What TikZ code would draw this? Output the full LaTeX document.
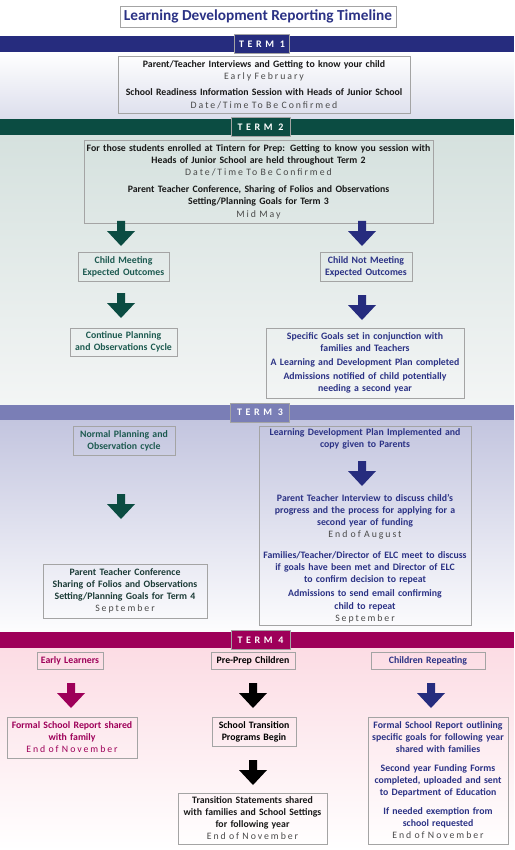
\documentclass[tikz,border=0pt]{standalone}
\usepackage{fontspec}
\setmainfont{Carlito}
\newfontfamily\datefont[LetterSpace=20]{Carlito}
\newfontfamily\termfont[LetterSpace=36]{Carlito}
\definecolor{navy}{HTML}{262C7E}
\definecolor{navytxt}{HTML}{2B3285}
\definecolor{darkgreen}{HTML}{0B4C42}
\definecolor{greentxt}{HTML}{1D5A50}
\definecolor{ptctxt}{HTML}{1B3B36}
\definecolor{lavband}{HTML}{7A7EB6}
\definecolor{magenta}{HTML}{9E0059}
\definecolor{boxgray}{HTML}{A4A4A4}
\definecolor{dategray}{HTML}{4A4A4A}
\definecolor{tonebg}{HTML}{DCDEEC}
\definecolor{ttwotop}{HTML}{D5E1DE}
\definecolor{ttwobot}{HTML}{F3F5F5}
\definecolor{tthreetop}{HTML}{C3C5DF}
\definecolor{tfourtop}{HTML}{FCDCE4}
\newcommand\datetxt[1]{{\datefont\mdseries\color{dategray}#1}}
\newcommand\datemag[1]{{\datefont\mdseries\color{magenta}#1}}
\tikzset{
  box/.style={draw=boxgray, line width=0.7pt, align=center, inner sep=0pt,
    font=\fontsize{9.8}{12}\selectfont\bfseries},
  termlabel/.style={draw=boxgray, line width=0.7pt, minimum width=59, minimum height=19,
    inner sep=0pt, text=white, font=\termfont\fontsize{10}{10}\selectfont\bfseries},
  plain/.style={align=center, inner sep=0pt, font=\fontsize{9.8}{12}\selectfont\bfseries},
  downarrow/.pic={\fill (-4,0) -- (4,0) -- (4,10) -- (14,10) -- (0,25) -- (-14,10) -- (-4,10) -- cycle;}
}
\begin{document}
\begin{tikzpicture}[x=1pt,y=-1pt]
\useasboundingbox (0,0) rectangle (514,850);
\fill[white] (0,0) rectangle (514,850);
% section backgrounds
\shade[top color=white, bottom color=tonebg] (0,52) rectangle (514,119);
\shade[top color=ttwotop, bottom color=ttwobot] (0,135) rectangle (514,404);
\shade[top color=tthreetop, bottom color=white!96!tthreetop] (0,420) rectangle (514,632);
\shade[top color=tfourtop, bottom color=white] (0,648) rectangle (514,850);
% bands
\fill[navy] (0,36) rectangle (514,52);
\fill[darkgreen] (0,119) rectangle (514,135);
\fill[lavband] (0,405) rectangle (514,420);
\fill[magenta] (0,632) rectangle (514,648);

% title
\node[draw=boxgray, line width=0.7pt, minimum width=276, minimum height=21, inner sep=0pt,
  text=navytxt, font=\fontsize{15.3}{16}\selectfont\bfseries] (title) at (258,16.5)
  {Learning Development Reporting Timeline};

% TERM 1
\node[termlabel, fill=navy, minimum width=55] (t1) at (262,44) {TERM 1};
\node[box, minimum width=292, minimum height=57, text width=288, text=black!90] (t1box) at (264,84.5)
  {Parent/Teacher Interviews and Getting to know your child\\[0.5pt]
   \datetxt{Early February}\\[4pt]
   School Readiness Information Session with Heads of Junior School\\[0.5pt]
   \datetxt{Date/Time To Be Confirmed}};

% TERM 2
\node[termlabel, fill=darkgreen] (t2) at (260.5,127) {TERM 2};
\node[box, minimum width=349, minimum height=83, text width=349, text=black!90] (t2box) at (258.5,181.5)
  {For those students enrolled at Tintern for Prep: Getting to know you session with\\
   Heads of Junior School are held throughout Term 2\\
   \datetxt{Date/Time To Be Confirmed}\\[5pt]
   Parent Teacher Conference, Sharing of Folios and Observations\\
   Setting/Planning Goals for Term 3\\[1pt]
   \datetxt{Mid May}};
\coordinate (a1) at (121,221);
\coordinate (a2) at (362,221);
\pic[darkgreen] at (a1) {downarrow};
\pic[navy] at (a2) {downarrow};
\node[box, minimum width=91, minimum height=29, text width=89, text=greentxt] (meet) at (123.5,266.5)
  {Child Meeting\\Expected Outcomes};
\node[box, minimum width=92, minimum height=29, text width=90, text=navytxt] (notmeet) at (366,266.5)
  {Child Not Meeting\\Expected Outcomes};
\coordinate (a3) at (121,293);
\coordinate (a4) at (362,295);
\pic[darkgreen] at (a3) {downarrow};
\pic[navy] at (a4) {downarrow};
\node[box, minimum width=107, minimum height=28, text width=105, text=greentxt] (cont) at (123.5,342)
  {Continue Planning\\and Observations Cycle};
\node[box, minimum width=198, minimum height=70, text width=196, text=navytxt] (goals) at (365,363)
  {Specific Goals set in conjunction with\\families and Teachers\\[2pt]
   A Learning and Development Plan completed\\[2pt]
   Admissions notified of child potentially\\needing a second year};

% TERM 3
\node[termlabel, fill=lavband] (t3) at (260,412.5) {TERM 3};
\node[box, minimum width=102, minimum height=29, text width=100, text=greentxt] (normal) at (124,440.5)
  {Normal Planning and\\Observation cycle};
\node[box, minimum width=212, minimum height=199] (ldp) at (365,525.5) {};
\node[plain, text=navytxt, text width=208] (ldptop) at (365,439)
  {Learning Development Plan Implemented and\\copy given to Parents};
\coordinate (a5) at (362,461);
\pic[navy] at (a5) {downarrow};
\node[plain, text=navytxt, text width=208, anchor=north] (ldpbot) at (365,494)
  {Parent Teacher Interview to discuss child's\\
   progress and the process for applying for a\\
   second year of funding\\
   \datetxt{End of August}\\[9pt]
   Families/Teacher/Director of ELC meet to discuss\\
   if goals have been met and Director of ELC\\
   to confirm decision to repeat\\[2pt]
   Admissions to send email confirming\\[1pt]
   child to repeat\\
   \datetxt{September}};
\coordinate (a6) at (121,494);
\pic[darkgreen] at (a6) {downarrow};
\node[box, minimum width=164, minimum height=54, text width=162, text=ptctxt] (ptc) at (125,591)
  {Parent Teacher Conference\\Sharing of Folios and Observations\\
   Setting/Planning Goals for Term 4\\\datetxt{September}};

% TERM 4
\node[termlabel, fill=magenta] (t4) at (260.5,640) {TERM 4};
\node[box, minimum width=66, minimum height=17, text width=64, text=magenta] (early) at (70,660.5)
  {Early Learners};
\node[box, minimum width=84, minimum height=17, text width=82, text=black] (preprep) at (253,660.5)
  {Pre-Prep Children};
\node[box, minimum width=114, minimum height=17, text width=112, text=navytxt] (repeat) at (428,660.5)
  {Children Repeating};
\coordinate (a7) at (71,683);
\coordinate (a8) at (253,683);
\coordinate (a9) at (431,683);
\pic[magenta] at (a7) {downarrow};
\pic[black] at (a8) {downarrow};
\pic[navy] at (a9) {downarrow};
\node[box, minimum width=130, minimum height=41, text width=128, text=magenta] (formal1) at (72,737.5)
  {Formal School Report shared\\with family\\\datemag{End of November}};
\node[box, minimum width=84, minimum height=29, text width=82, text=black] (trans) at (254,731.5)
  {School Transition\\Programs Begin};
\coordinate (a10) at (253,760);
\pic[black] at (a10) {downarrow};
\node[box, minimum width=149, minimum height=51, text width=147, text=black!90] (statements) at (252.5,818.5)
  {Transition Statements shared\\with families and School Settings\\for following year\\
   \datetxt{End of November}};
\node[box, minimum width=140, minimum height=127, text width=138, text=navytxt] (formal2) at (438,780.5)
  {Formal School Report outlining\\specific goals for following year\\shared with families\\[7pt]
   Second year Funding Forms\\completed, uploaded and sent\\to Department of Education\\[7pt]
   If needed exemption from\\school requested\\\datetxt{End of November}};
\end{tikzpicture}
\end{document}
